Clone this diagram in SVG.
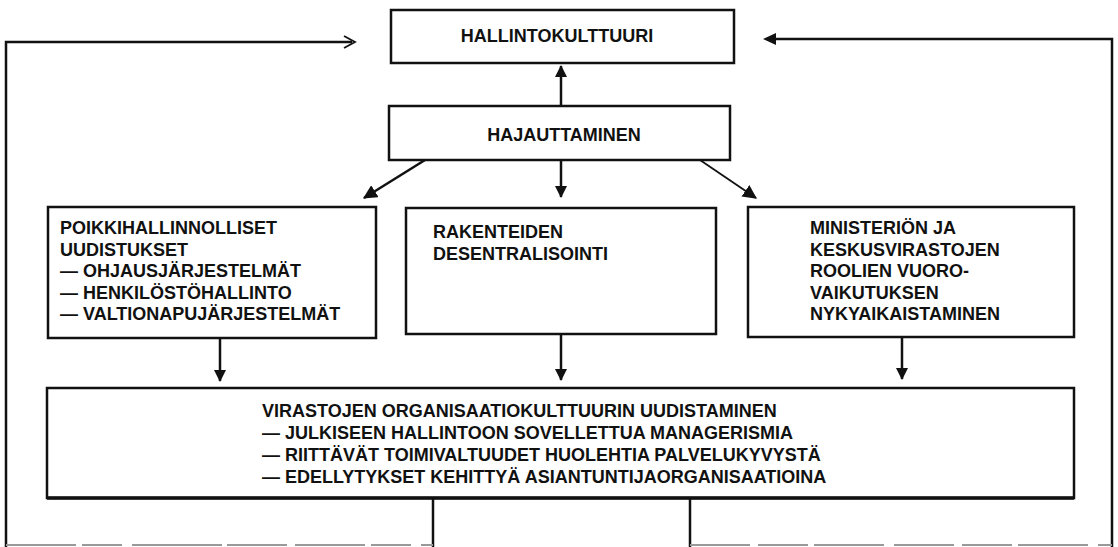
<svg xmlns="http://www.w3.org/2000/svg" width="1118" height="547" viewBox="0 0 1118 547">
<defs>
<marker id="ah" viewBox="0 0 12 12" refX="11" refY="6" markerWidth="12" markerHeight="12" markerUnits="userSpaceOnUse" orient="auto">
<path d="M0,0 L12,6 L0,12 Z" fill="#111"/>
</marker>
<marker id="ahs" viewBox="0 0 12 12" refX="11" refY="6" markerWidth="14" markerHeight="14" markerUnits="userSpaceOnUse" orient="auto">
<path d="M0,0 L12,6 L0,12 Z" fill="#111"/>
</marker>
</defs>
<style>
.box{fill:#fff;stroke:#111;stroke-width:2.5}
.t{font-family:"Liberation Sans",Arial,sans-serif;font-weight:bold;font-size:18px;fill:#111}
.c{fill:none;stroke:#111;stroke-width:2.5}
.thin{fill:none;stroke:#111;stroke-width:1.8}
.faint{fill:none;stroke:#999;stroke-width:2}
</style>
<rect width="1118" height="547" fill="#fff"/>
<g id="connectors">
<polyline class="c" points="6,547 6,42 352,42"/>
<polyline class="thin" points="344,36 355,42 344,48"/>
<polyline class="c" points="1112,547 1112,39 772,39"/>
<path d="M763,39 L776,33 L776,45 Z" fill="#111"/>
<line class="c" x1="561" y1="106" x2="561" y2="66" marker-end="url(#ah)"/>
<line class="c" x1="561" y1="160" x2="561" y2="197" marker-end="url(#ah)"/>
<line class="c" x1="425" y1="160" x2="364" y2="198" marker-end="url(#ahs)"/>
<line class="thin" x1="700" y1="160" x2="756" y2="198" marker-end="url(#ahs)"/>
<line class="c" x1="220" y1="339" x2="220" y2="381" marker-end="url(#ah)"/>
<line class="c" x1="561" y1="335" x2="561" y2="380" marker-end="url(#ah)"/>
<line class="c" x1="902" y1="338" x2="902" y2="379" marker-end="url(#ah)"/>
<line class="c" x1="433" y1="498" x2="433" y2="547"/>
<line class="c" x1="690" y1="498" x2="690" y2="547"/>
<line class="faint" x1="6" y1="545" x2="433" y2="545" stroke-dasharray="70 6 40 10 90 5 60 8"/>
<line class="faint" x1="690" y1="545" x2="1112" y2="545" stroke-dasharray="60 8 50 6 70 10"/>
</g>
<g id="hallintokulttuuri">
<rect class="box" x="391" y="10" width="343" height="53"/>
<text class="t" x="557" y="42" text-anchor="middle">HALLINTOKULTTUURI</text>
</g>
<g id="hajauttaminen">
<rect class="box" x="389" y="106" width="341" height="54"/>
<text class="t" x="564" y="141" text-anchor="middle">HAJAUTTAMINEN</text>
</g>
<g id="poikkihallinnolliset">
<rect class="box" x="48" y="207" width="328" height="131"/>
<text class="t" x="60" y="234">POIKKIHALLINNOLLISET</text>
<text class="t" x="60" y="255.5">UUDISTUKSET</text>
<text class="t" x="60" y="277">— OHJAUSJÄRJESTELMÄT</text>
<text class="t" x="60" y="298.5">— HENKILÖSTÖHALLINTO</text>
<text class="t" x="60" y="320">— VALTIONAPUJÄRJESTELMÄT</text>
</g>
<g id="rakenteiden">
<rect class="box" x="406" y="208" width="310" height="126"/>
<text class="t" x="433" y="238">RAKENTEIDEN</text>
<text class="t" x="433" y="259.5">DESENTRALISOINTI</text>
</g>
<g id="ministerion">
<rect class="box" x="748" y="207" width="326" height="130"/>
<text class="t" x="810" y="234">MINISTERIÖN JA</text>
<text class="t" x="810" y="255.5">KESKUSVIRASTOJEN</text>
<text class="t" x="810" y="277">ROOLIEN VUORO-</text>
<text class="t" x="810" y="298.5">VAIKUTUKSEN</text>
<text class="t" x="810" y="320">NYKYAIKAISTAMINEN</text>
</g>
<g id="virastojen">
<rect class="box" x="47" y="388" width="1027" height="110"/>
<line x1="47" y1="498" x2="1074" y2="498" stroke="#111" stroke-width="3.5"/>
<text class="t" x="262" y="417">VIRASTOJEN ORGANISAATIOKULTTUURIN UUDISTAMINEN</text>
<text class="t" x="262" y="439">— JULKISEEN HALLINTOON SOVELLETTUA MANAGERISMIA</text>
<text class="t" x="262" y="461">— RIITTÄVÄT TOIMIVALTUUDET HUOLEHTIA PALVELUKYVYSTÄ</text>
<text class="t" x="262" y="483">— EDELLYTYKSET KEHITTYÄ ASIANTUNTIJAORGANISAATIOINA</text>
</g>
</svg>
